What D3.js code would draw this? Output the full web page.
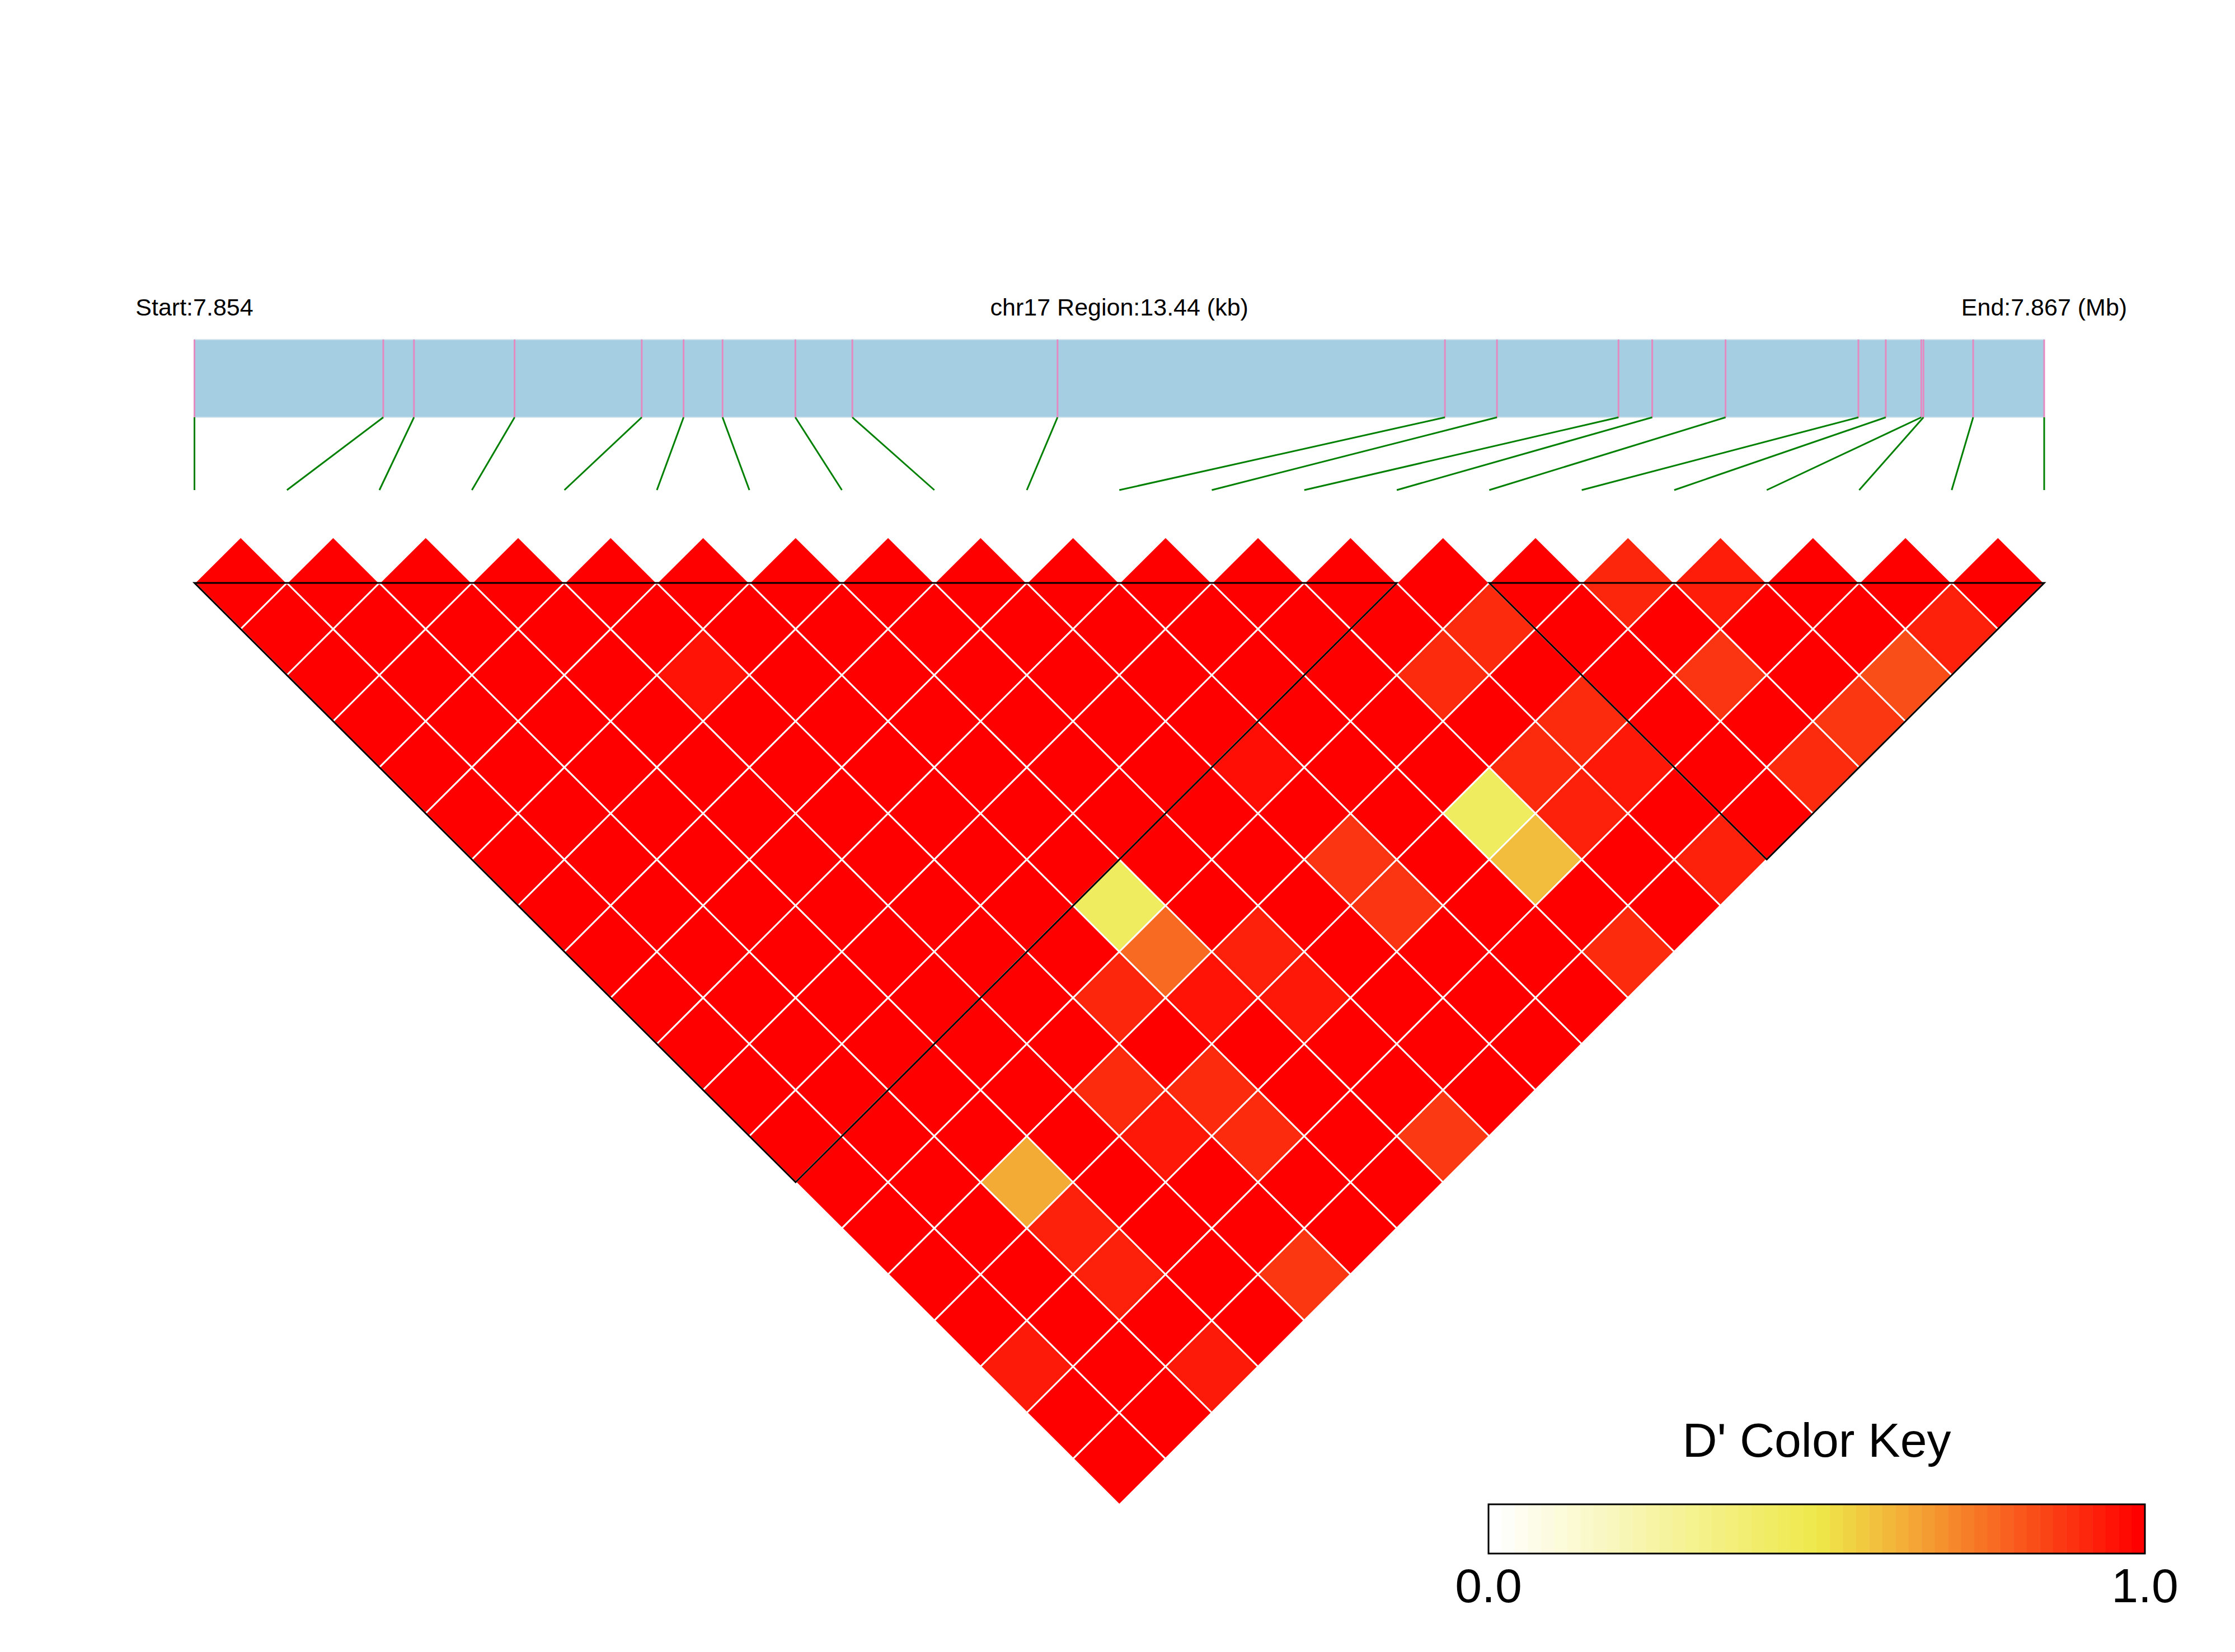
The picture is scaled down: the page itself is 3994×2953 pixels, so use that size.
<!DOCTYPE html>
<html>
<head>
<meta charset="utf-8">
<script src="https://cdn.jsdelivr.net/npm/d3@7"></script>
<style>
  body { margin: 0; background: #fff; }
  text { font-family: "Liberation Sans", Arial, Helvetica, sans-serif; fill: #000; }
</style>
</head>
<body>
<div id="vis"></div>
<script>
const FRAME_WIDTH = 3994;
const FRAME_HEIGHT = 2953;

// data
const chrom = "chr17";
// physical positions of the 21 SNPs (bp)
const snpPos = [7853620, 7854992, 7855215, 7855946, 7856870, 7857174, 7857457,
                7857986, 7858400, 7859891, 7862706, 7863084, 7863967, 7864212,
                7864745, 7865710, 7865909, 7866167, 7866183, 7866544, 7867060];
// haplotype blocks (first SNP index, last SNP index)
const blocks = [[0, 13], [14, 20]];
// D' values, row i holds pairs (i, j) for j = i+1 .. 20
const dprime = [
  [1,1,1,1,1,1,1,1,1,1,1,1,1,1,1,1,1,0.945,1,1],
  [1,1,1,1,1,1,1,1,1,1,1,1,1,1,1,1,1,1,1],
  [1,1,1,1,1,1,1,1,1,1,1,1,1,0.64,0.93,0.93,1,0.945],
  [1,1,1,1,1,1,1,1,1,1,1,1,1,1,1,1,1],
  [1,1,0.96,1,1,1,1,1,1,1,1,0.91,0.95,1,1,0.885],
  [1,1,1,1,1,1,1,1,1,0.92,1,0.91,0.91,1,1],
  [1,1,1,1,1,1,1,0.44,0.78,0.96,1,1,1,1],
  [1,1,1,1,1,1,1,1,0.93,0.95,1,1,0.88],
  [1,1,1,1,1,1,1,1,1,1,1,1],
  [1,1,1,1,0.97,1,0.89,0.89,1,1,1],
  [1,1,1,1,1,1,1,1,1,1],
  [1,1,1,1,1,0.44,0.6,1,0.91],
  [1,1,0.91,1,0.91,0.93,1,1],
  [1,0.91,1,0.91,0.95,1,0.93],
  [1,1,1,1,1,1],
  [0.92,1,0.89,1,0.91],
  [0.94,1,1,0.885],
  [1,1,0.835],
  [1,0.93],
  [1]
];
const keyTitle = "D' Color Key";
const keyTicks = [0, 1];
const keySteps = 50;

// layout
const LEFT = 347.5, RIGHT = 3653;
const TEXT_Y = 564;
const BAR_TOP = 607, BAR_BOTTOM = 746;
const LINK_BOTTOM = 876;
const MAP_TOP = 1042, MAP_BOTTOM = 2690;
const nSnp = snpPos.length;

const FRAME = d3.select("#vis")
                .append("svg")
                  .attr("width", FRAME_WIDTH)
                  .attr("height", FRAME_HEIGHT)
                  .attr("class", "frame");

// scales
const xPhys = d3.scaleLinear()
                .domain([snpPos[0], snpPos[nSnp - 1]])
                .range([LEFT, RIGHT]);
const xIdx = d3.scaleLinear()
               .domain([0, nSnp - 1])
               .range([LEFT, RIGHT]);
const yRow = d3.scaleLinear()   // distance (j - i) -> y of the diagonal line
               .domain([0, nSnp - 1])
               .range([MAP_TOP, MAP_BOTTOM]);
const color = d3.scaleLinear()
                .domain([0, 0.5, 0.63, 1])
                .range(["#ffffff", "#eee94a", "#f3b038", "#ff0000"]);

const hh = (xIdx(1) - xIdx(0)) / 2;   // half width of a cell
const hv = yRow(1) - yRow(0);          // half height of a cell

//###############################################################
// genome bar with SNP ticks
//###############################################################
const fmt3 = d3.format(".3f");
const span = snpPos[nSnp - 1] - snpPos[0];

FRAME.append("text")
     .attr("x", xPhys(snpPos[0]))
     .attr("y", TEXT_Y)
     .attr("text-anchor", "middle")
     .attr("font-size", 43)
     .text("Start:" + fmt3(snpPos[0] / 1e6));

FRAME.append("text")
     .attr("x", (xPhys(snpPos[0]) + xPhys(snpPos[nSnp - 1])) / 2)
     .attr("y", TEXT_Y)
     .attr("text-anchor", "middle")
     .attr("font-size", 43)
     .text(chrom + " Region:" + d3.format(".2f")(span / 1000) + " (kb)");

FRAME.append("text")
     .attr("x", xPhys(snpPos[nSnp - 1]))
     .attr("y", TEXT_Y)
     .attr("text-anchor", "middle")
     .attr("font-size", 43)
     .text("End:" + fmt3(snpPos[nSnp - 1] / 1e6) + " (Mb)");

FRAME.append("rect")
     .attr("x", xPhys(snpPos[0]))
     .attr("y", BAR_TOP)
     .attr("width", xPhys(snpPos[nSnp - 1]) - xPhys(snpPos[0]))
     .attr("height", BAR_BOTTOM - BAR_TOP)
     .attr("fill", "#a6cee3")
     .attr("stroke", "#d2e4ee")
     .attr("stroke-width", 2);

// pink ticks inside the bar
FRAME.selectAll("tick")
     .data(snpPos)
     .enter()
     .append("line")
       .attr("x1", (d) => { return xPhys(d); })
       .attr("x2", (d) => { return xPhys(d); })
       .attr("y1", BAR_TOP)
       .attr("y2", BAR_BOTTOM)
       .attr("stroke", "#e48ac0")
       .attr("stroke-width", 3);

// green links from bar to evenly spaced map positions
FRAME.selectAll("link")
     .data(snpPos)
     .enter()
     .append("line")
       .attr("x1", (d) => { return xPhys(d); })
       .attr("y1", BAR_BOTTOM)
       .attr("x2", (d, i) => { return xIdx(i); })
       .attr("y2", LINK_BOTTOM)
       .attr("stroke", "#008000")
       .attr("stroke-width", 3);

//###############################################################
// LD heatmap, one diamond per SNP pair
//###############################################################
const cells = [];
dprime.forEach((row, i) => {
  row.forEach((v, k) => { cells.push({i: i, j: i + k + 1, v: v}); });
});

FRAME.selectAll("cell")
     .data(cells)
     .enter()
     .append("path")
       .attr("d", (d) => {
         const cx = xIdx((d.i + d.j) / 2);
         const cy = yRow(d.j - d.i - 1);
         return "M" + cx + "," + (cy - hv) + "L" + (cx + hh) + "," + cy +
                "L" + cx + "," + (cy + hv) + "L" + (cx - hh) + "," + cy + "Z";
       })
       .attr("fill", (d) => { return color(d.v); })
       .attr("stroke", "#ffffff")
       .attr("stroke-width", 3)
       .attr("stroke-linejoin", "miter");

// block outlines
FRAME.selectAll("block")
     .data(blocks)
     .enter()
     .append("path")
       .attr("d", (d) => {
         return "M" + xIdx(d[0]) + "," + yRow(0) + "L" + xIdx(d[1]) + "," + yRow(0) +
                "L" + xIdx((d[0] + d[1]) / 2) + "," + yRow(d[1] - d[0]) + "Z";
       })
       .attr("fill", "none")
       .attr("stroke", "#000")
       .attr("stroke-width", 3);

//###############################################################
// colour key
//###############################################################
const KEY_TOP = 2689, KEY_BOTTOM = 2777;
const keyX = d3.scaleLinear().domain([0, 1]).range([2660, 3833]);
const steps = d3.range(keySteps);

FRAME.selectAll("keystep")
     .data(steps)
     .enter()
     .append("rect")
       .attr("x", (d) => { return keyX(d / keySteps); })
       .attr("y", KEY_TOP)
       .attr("width", keyX(1 / keySteps) - keyX(0) + 0.5)
       .attr("height", KEY_BOTTOM - KEY_TOP)
       .attr("fill", (d) => { return color(d / (keySteps - 1)); });

FRAME.append("rect")
     .attr("x", keyX(0))
     .attr("y", KEY_TOP)
     .attr("width", keyX(1) - keyX(0))
     .attr("height", KEY_BOTTOM - KEY_TOP)
     .attr("fill", "none")
     .attr("stroke", "#000")
     .attr("stroke-width", 3);

FRAME.append("text")
     .attr("x", (keyX(0) + keyX(1)) / 2)
     .attr("y", 2604)
     .attr("text-anchor", "middle")
     .attr("font-size", 86)
     .text(keyTitle);

FRAME.selectAll("keytick")
     .data(keyTicks)
     .enter()
     .append("text")
       .attr("x", (d) => { return keyX(d); })
       .attr("y", 2864)
       .attr("text-anchor", "middle")
       .attr("font-size", 86)
       .text((d) => { return d3.format(".1f")(d); });
</script>
</body>
</html>
